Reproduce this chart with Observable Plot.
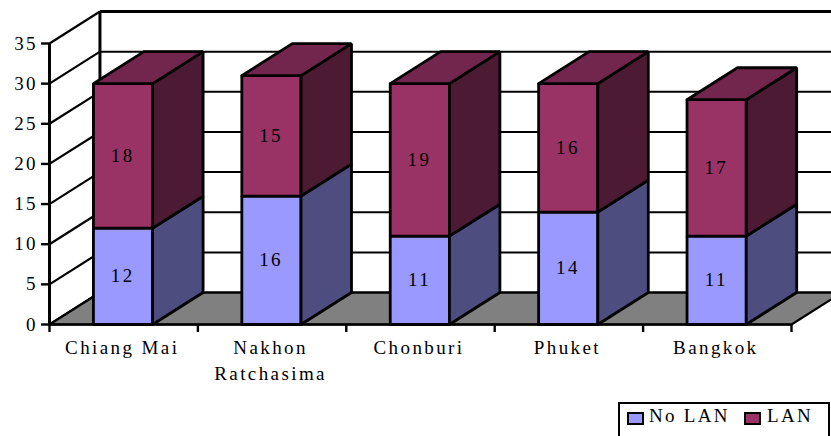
<!DOCTYPE html>
<html>
<head>
<meta charset="utf-8">
<script src="https://cdn.jsdelivr.net/npm/d3@7"></script>
<script src="https://cdn.jsdelivr.net/npm/@observablehq/plot@0.6"></script>
<style>
html,body{margin:0;padding:0;background:#fff;width:831px;height:436px;overflow:hidden}
#chart svg{display:block}
#legend{position:absolute;left:618px;top:402px;width:212px;height:40px;box-sizing:border-box;border:2px solid #000;font:19px "Liberation Serif",serif;letter-spacing:2.3px;color:#000;background:#fff}
#legend i{position:absolute;top:8px;width:13px;height:9px;border:2.5px solid #000}
#legend span{position:absolute;top:1px;white-space:nowrap}
</style>
</head>
<body>
<div id="chart"></div>
<div id="legend"></div>
<script>
const categories = ["Chiang Mai", "Nakhon\nRatchasima", "Chonburi", "Phuket", "Bangkok"];
const noLan = [12, 16, 11, 14, 11];
const lan = [18, 15, 19, 16, 17];
const yTicks = [0, 5, 10, 15, 20, 25, 30, 35];
const xEdges = [0, 1, 2, 3, 4, 5];
const seriesNames = ["No LAN", "LAN"];
const frontColors = ["#9999ff", "#993366"];
const sideColors = ["#4d4d80", "#4d1a33"];
const topColors = ["#5c5c99", "#73264d"];
const floorColor = "#808080";

// Oblique 3D projection, in data units: depth moves right and up.
const depthX = 0.34, depthY = 3.98, barLeft = 0.296, barRight = 0.695;
const proj = (x, y, d) => ({x: x + d * depthX, y: y + d * depthY});

const faces = [];
const addFace = (id, fill, pts) => {
  for (const [x, y, d] of [...pts, pts[0]]) faces.push({id, fill, ...proj(x, y, d)});
};
categories.forEach((_, i) => {
  const l = i + barLeft, r = i + barRight;
  let base = 0;
  [noLan[i], lan[i]].forEach((v, s) => {
    const t = base + v;
    addFace(`f${i}-${s}`, frontColors[s], [[l, base, 0], [r, base, 0], [r, t, 0], [l, t, 0]]);
    addFace(`s${i}-${s}`, sideColors[s], [[r, base, 0], [r, base, 1], [r, t, 1], [r, t, 0]]);
    if (s === 1) addFace(`t${i}`, topColors[s], [[l, t, 0], [r, t, 0], [r, t, 1], [l, t, 1]]);
    base = t;
  });
});
const floor = [];
for (const [x, d] of [[0, 0], [5, 0], [5, 1], [0, 1], [0, 0]]) floor.push(proj(x, 0, d));

const labels = [];
categories.forEach((_, i) => {
  labels.push({x: i + 0.5, y: noLan[i] / 2, t: String(noLan[i])});
  labels.push({x: i + 0.5, y: noLan[i] + lan[i] / 2, t: String(lan[i])});
});

const side = yTicks.map(v => ({a: proj(0, v, 0), b: proj(0, v, 1), c: proj(5, v, 1), v}));

const plot = Plot.plot({
  width: 831, height: 402,
  marginLeft: 49, marginRight: 40, marginTop: 43, marginBottom: 78,
  x: {domain: [0, 5], axis: null},
  y: {domain: [0, 35], axis: null},
  style: {fontFamily: "Liberation Serif", background: "#fff", overflow: "hidden"},
  marks: [
    // walls
    Plot.link(side, {x1: d => d.a.x, y1: d => d.a.y, x2: d => d.b.x, y2: d => d.b.y, stroke: "#000", strokeWidth: 2.2}),
    Plot.link(side, {x1: d => d.b.x, y1: d => d.b.y, x2: d => d.c.x, y2: d => d.c.y, stroke: "#000", strokeWidth: d => d.v === 35 ? 3 : 2}),
    Plot.line(floor, {x: "x", y: "y", fill: floorColor, stroke: "#000", strokeWidth: 2.2}),
    Plot.ruleX([proj(0, 0, 1).x], {y1: proj(0, 0, 1).y, y2: proj(0, 35, 1).y, stroke: "#000", strokeWidth: 3}),
    Plot.ruleX([0], {y1: 0, y2: 35, stroke: "#000", strokeWidth: 3}),
    // bars
    Plot.line(faces, {x: "x", y: "y", z: "id", fill: "fill", stroke: "#000", strokeWidth: 2.8, strokeLinejoin: "miter"}),
    Plot.ruleY([0], {x1: 0, x2: 5, stroke: "#000", strokeWidth: 2.4}),
    // axes
    Plot.axisY({ticks: yTicks, tickSize: 8, tickPadding: 3.5, fontSize: 19, stroke: "#000", strokeWidth: 2.4, color: "#000", label: null}),
    Plot.axisX({ticks: xEdges, tickSize: 8, tickFormat: () => "", stroke: "#000", strokeWidth: 2.4, label: null}),
    Plot.text(categories, {
      x: (_, i) => i + 0.5, y: 0, text: d => d, dx: -1.5, dy: 11, lineAnchor: "top", lineHeight: 1.37,
      fontSize: 19, fill: "#000"
    }),
    Plot.text(labels, {x: "x", y: "y", text: "t", dx: -1, fontSize: 19, fill: "#000", textAnchor: "middle"})
  ]
});
plot.querySelectorAll("text").forEach(t => { t.style.letterSpacing = "2.4px"; });
document.getElementById("chart").append(plot);

const legend = document.getElementById("legend");
const pos = [[7, 29], [124, 147]];
seriesNames.forEach((n, i) => {
  const sw = document.createElement("i");
  sw.style.left = pos[i][0] + "px"; sw.style.background = frontColors[i];
  const tx = document.createElement("span");
  tx.style.left = pos[i][1] + "px"; tx.textContent = n;
  legend.append(sw, tx);
});
</script>
</body>
</html>
